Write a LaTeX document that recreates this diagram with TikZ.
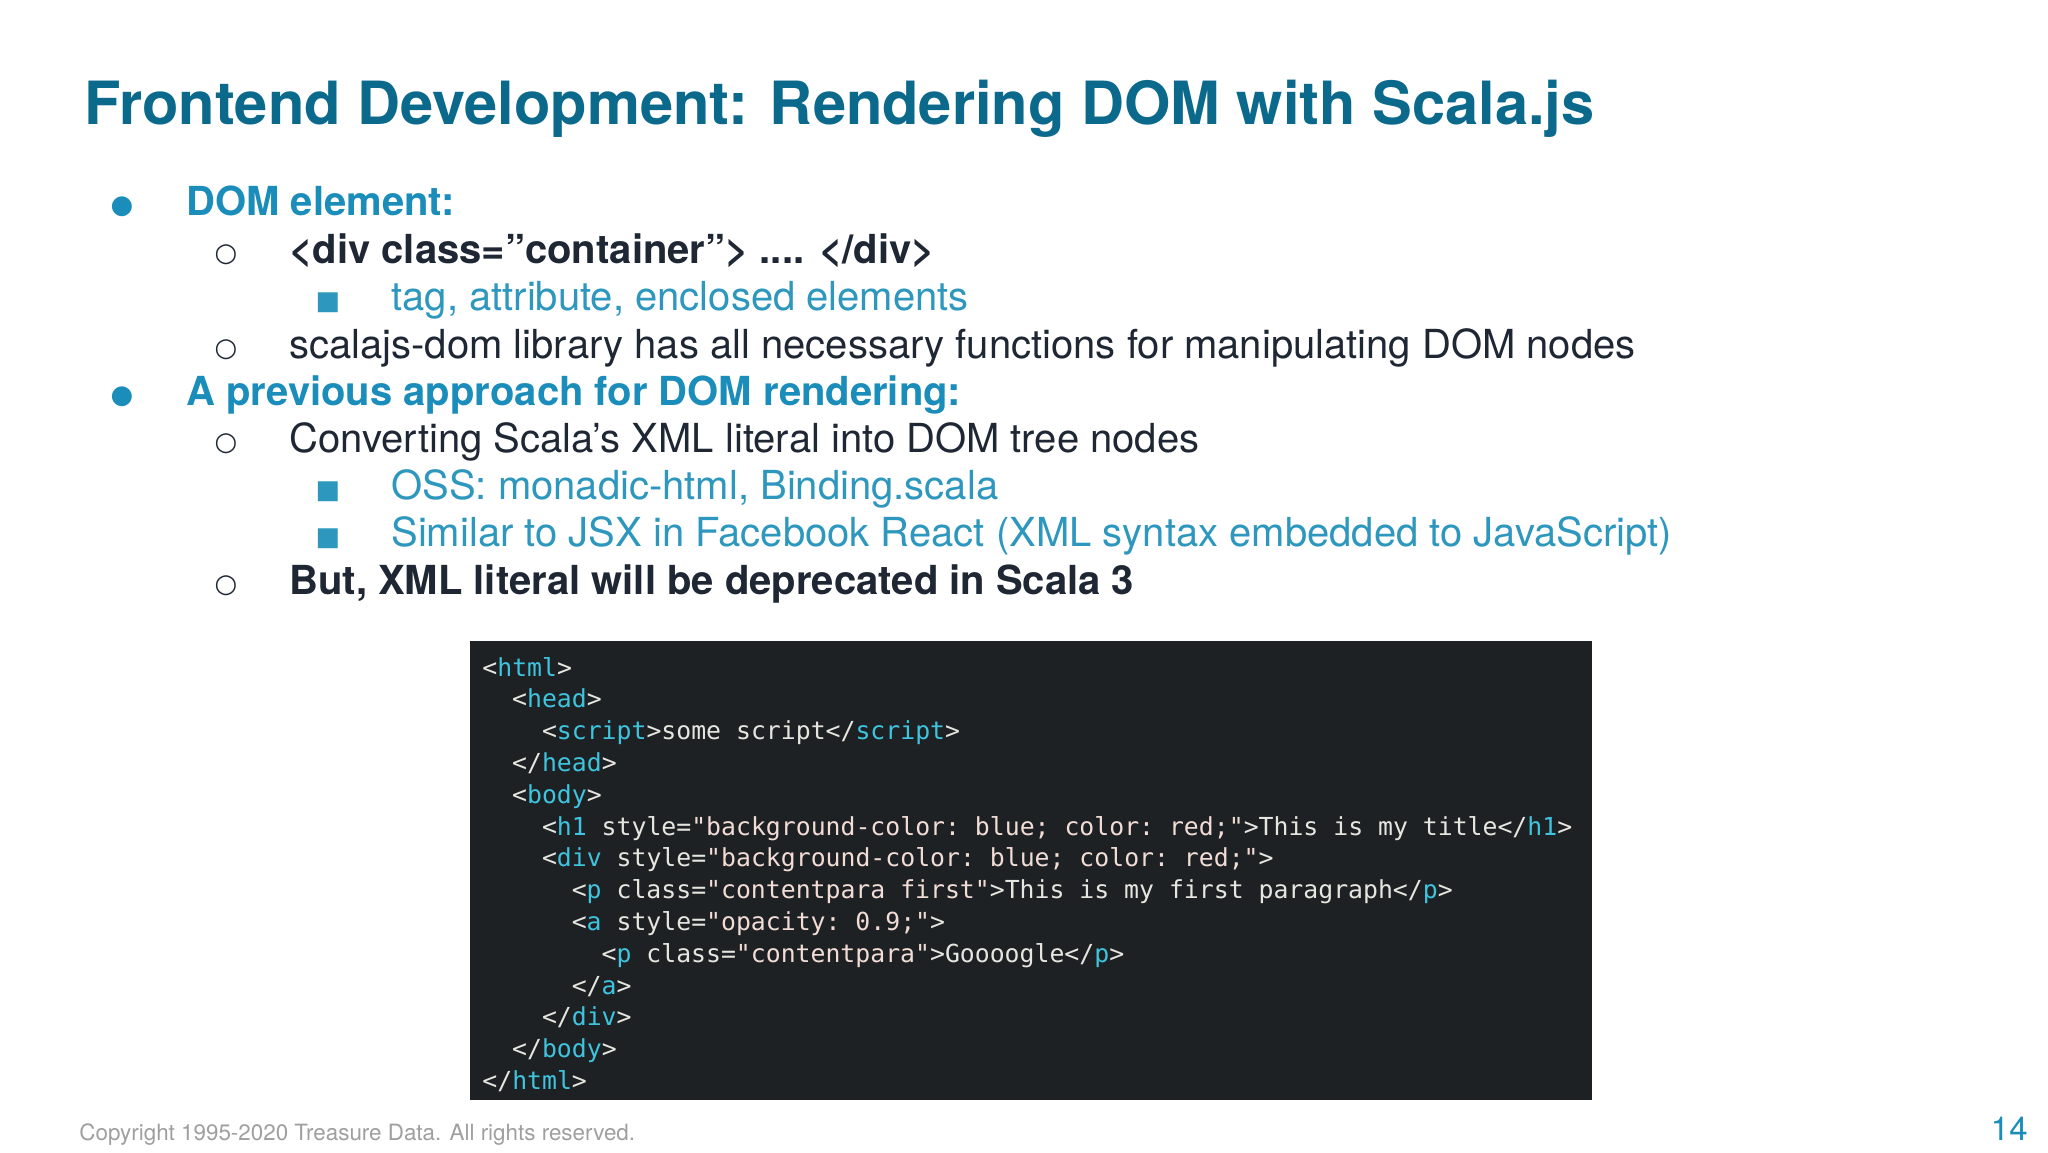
\documentclass[tikz,border=0pt]{standalone}
\usepackage{fontspec}
\setmainfont{TeX Gyre Heros}
\setmonofont{DejaVu Sans Mono}
\newfontfamily\symf{DejaVu Sans}
\definecolor{ttl}{HTML}{0B6A8C}
\definecolor{hd}{HTML}{1B8DBA}
\definecolor{lt}{HTML}{2E97BE}
\definecolor{dk}{HTML}{1E2733}
\definecolor{codebg}{HTML}{1E2124}
\definecolor{cy}{HTML}{3EC4DE}
\definecolor{cw}{HTML}{E6E6E0}
\definecolor{cs}{HTML}{F1DCD6}
\newcommand{\tg}[1]{\textcolor{cy}{#1}}
\newcommand{\st}[1]{\textcolor{cs}{#1}}
\begin{document}
\begin{tikzpicture}[x=0.5pt,y=-0.5pt,
  body/.style={anchor=base west,inner sep=0,font=\fontsize{20}{22}\selectfont},
  bbody/.style={body,font=\bfseries\fontsize{20}{22}\selectfont},
  sym/.style={anchor=base,inner sep=0,font=\symf\fontsize{13}{14}\selectfont},
  codeln/.style={anchor=base west,inner sep=0,text=cw,font=\ttfamily\fontsize{12.4}{13}\selectfont}]
\useasboundingbox[fill=white] (0,0) rectangle (2048,1152);
\node[anchor=base west,inner sep=0,text=ttl,font=\bfseries\fontsize{29.8}{32}\selectfont] (title) at (84,124) {Frontend Development: Rendering DOM with Scala.js};
% bullets
\node[sym,text=hd] (b1) at (122,213) {●};
\node[bbody,text=hd] (t1) at (186,215) {DOM element:};
\node[sym,text=dk] (b2) at (226,261) {○};
\node[bbody,text=dk] (t2) at (289,263) {<div class=”container”> .... </div>};
\node[sym,text=lt] (b3) at (328,309) {■};
\node[body,text=lt] (t3) at (391,310) {tag, attribute, enclosed elements};
\node[sym,text=dk] (b4) at (226,356) {○};
\node[body,text=dk] (t4) at (289,358) {scalajs-dom library has all necessary functions for manipulating DOM nodes};
\node[sym,text=hd] (b5) at (122,403) {●};
\node[bbody,text=hd] (t5) at (186,405) {A previous approach for DOM rendering:};
\node[sym,text=dk] (b6) at (226,450) {○};
\node[body,text=dk] (t6) at (289,452) {Converting Scala’s XML literal into DOM tree nodes};
\node[sym,text=lt] (b7) at (328,498) {■};
\node[body,text=lt] (t7) at (391,499) {OSS: monadic-html, Binding.scala};
\node[sym,text=lt] (b8) at (328,545) {■};
\node[body,text=lt] (t8) at (391,546) {Similar to JSX in Facebook React (XML syntax embedded to JavaScript)};
\node[sym,text=dk] (b9) at (226,592) {○};
\node[bbody,text=dk] (t9) at (289,594) {But, XML literal will be deprecated in Scala 3};
% code
\node[fill=codebg,minimum width=561pt,minimum height=229.5pt,anchor=north west,inner sep=0] (code) at (470,641) {};
\foreach \i/\ind/\txt in {
 0/0/{<\tg{html}>},
 1/2/{<\tg{head}>},
 2/4/{<\tg{script}>some script</\tg{script}>},
 3/2/{</\tg{head}>},
 4/2/{<\tg{body}>},
 5/4/{<\tg{h1} style=\st{"background-color: blue; color: red;"}>This is my title</\tg{h1}>},
 6/4/{<\tg{div} style=\st{"background-color: blue; color: red;"}>},
 7/6/{<\tg{p} class=\st{"contentpara first"}>This is my first paragraph</\tg{p}>},
 8/6/{<\tg{a} style=\st{"opacity: 0.9;"}>},
 9/8/{<\tg{p} class=\st{"contentpara"}>Goooogle</\tg{p}>},
 10/6/{</\tg{a}>},
 11/4/{</\tg{div}>},
 12/2/{</\tg{body}>},
 13/0/{</\tg{html}>}}
 \node[codeln] (c\i) at (482+14.9*\ind,676+31.8*\i) {\txt};
\node[anchor=base west,inner sep=0,text=gray!75,font=\fontsize{11.2}{13}\selectfont] (copy) at (79,1140) {Copyright 1995-2020 Treasure Data. All rights reserved.};
\node[anchor=base east,inner sep=0,text=hd,font=\fontsize{16.5}{18}\selectfont] (pg) at (2028,1140) {14};
\end{tikzpicture}
\end{document}
